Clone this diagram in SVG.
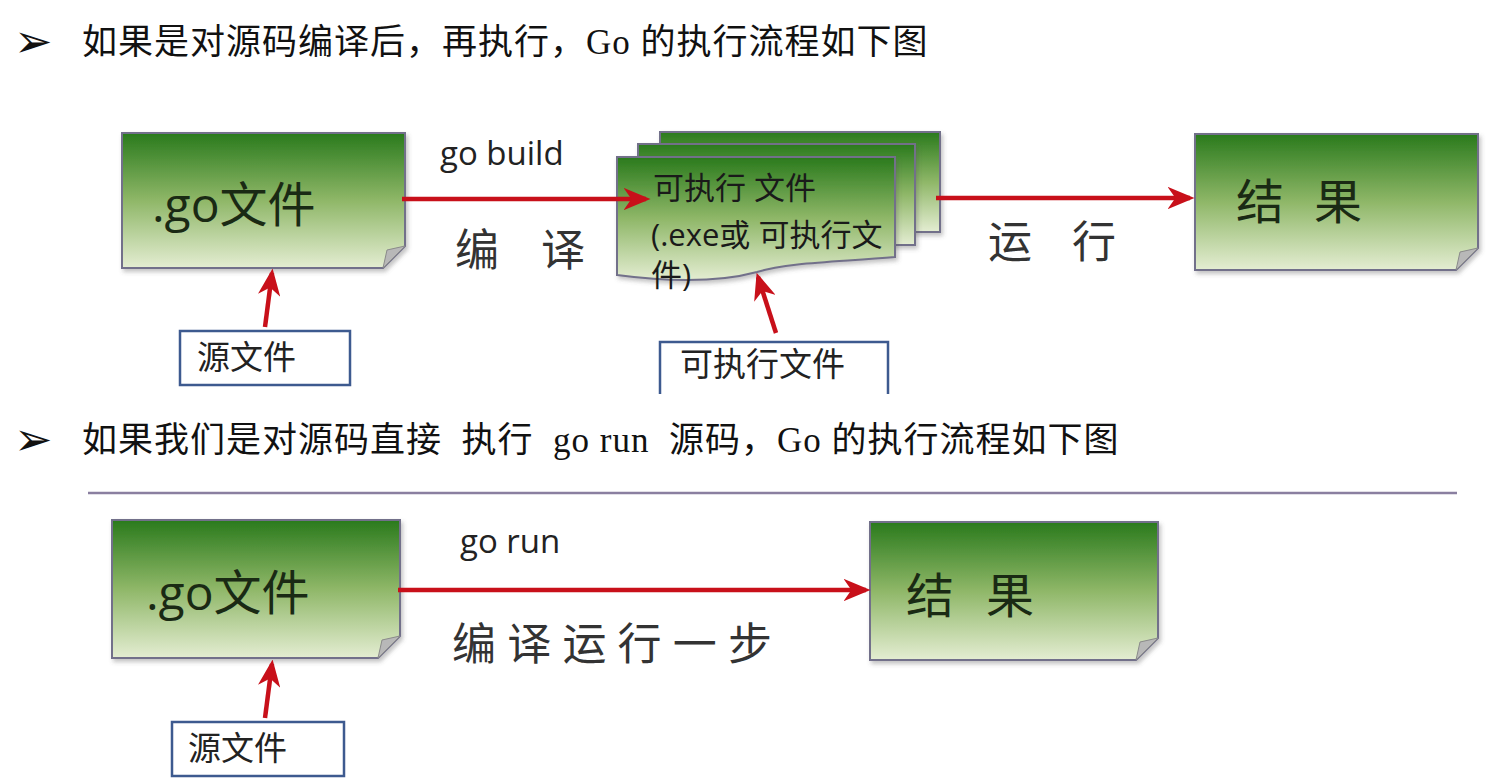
<svg xmlns="http://www.w3.org/2000/svg" width="1498" height="780" viewBox="0 0 1498 780">
  <style>
    .head { font-family: "Liberation Serif", "Noto Sans CJK SC", serif; font-size: 35px; letter-spacing: 1px; fill: #111; white-space: pre; }
    .bullet { font-family: "DejaVu Sans", sans-serif; font-size: 46px; fill: #111; }
    .big { font-family: "Open Sans", "Noto Sans CJK SC", sans-serif; font-size: 48px; fill: #1a2a14; }
    .mid { font-family: "Open Sans", "Noto Sans CJK SC", sans-serif; font-size: 31px; fill: #1a1a1a; }
    .lbl { font-family: "Open Sans", "Noto Sans CJK SC", sans-serif; font-size: 33px; fill: #222; }
    .cap { font-family: "Noto Sans CJK SC", sans-serif; font-size: 44px; fill: #333; }
    .doc { fill: url(#greenFill); stroke: #72708a; stroke-width: 2; filter: url(#shadow); }
    .fold { fill: #b8b8b8; stroke: #8a8a8a; stroke-width: 1; }
    .src { fill: #fff; stroke: #3d5a8f; stroke-width: 2.5; }
    .link { stroke: #c8101a; stroke-width: 4.5; fill: none; }
  </style>
  <defs>
    <linearGradient id="greenFill" x1="0" y1="0" x2="0" y2="1">
      <stop offset="0" stop-color="#2a7a1c"/>
      <stop offset="0.5" stop-color="#8fb768"/>
      <stop offset="1" stop-color="#e4edd2"/>
    </linearGradient>
    <filter id="shadow" x="-5%" y="-5%" width="112%" height="115%">
      <feDropShadow dx="2" dy="3" stdDeviation="2" flood-color="#555" flood-opacity="0.35"/>
    </filter>
    <marker id="head" viewBox="0 0 12 10" refX="10" refY="5" markerWidth="6" markerHeight="5" orient="auto" markerUnits="strokeWidth">
      <path d="M0,0 L12,5 L0,10 L3.5,5 z" fill="#c8101a"/>
    </marker>
  </defs>

  <!-- headings -->
  <g id="heading1">
    <text class="bullet" x="14" y="57">➢</text>
    <text class="head" x="82" y="54">如果是对源码编译后，再执行，Go 的执行流程如下图</text>
  </g>
  <g id="heading2">
    <text class="bullet" x="14" y="455">➢</text>
    <text class="head" x="82" y="452">如果我们是对源码直接  执行  go run  源码，Go 的执行流程如下图</text>
  </g>

  <!-- separator -->
  <line x1="88" y1="493" x2="1457" y2="493" stroke="#8a7fa0" stroke-width="2.5"/>

  <!-- edge labels -->
  <g id="labels">
    <text class="lbl" x="440" y="165">go build</text>
    <text class="cap" x="455" y="266" textLength="130" lengthAdjust="spacing">编 译</text>
    <text class="cap" x="988" y="258" textLength="128" lengthAdjust="spacing">运 行</text>
    <text class="lbl" x="460" y="553">go run</text>
    <text class="cap" x="452" y="660" textLength="320" lengthAdjust="spacing">编译运行一步</text>
  </g>

  <!-- top row -->
  <g id="goFile1">
    <path class="doc" d="M122,133 H405 V246 L383,268 H122 Z"/>
    <path class="fold" d="M405,246 L383,268 L387,250 Z"/>
    <text class="big" x="152" y="222">.go文件</text>
  </g>
  <g id="srcBox1">
    <rect class="src" x="180" y="331" width="170" height="54"/>
    <text class="lbl" x="197" y="369">源文件</text>
  </g>
  <g id="exeStack">
    <rect class="doc" x="660" y="132" width="280" height="100"/>
    <rect class="doc" x="638" y="144" width="277" height="101"/>
    <path class="doc" d="M617,157 H895 V257 C840,262 790,262 757,272 C720,282 670,282 617,275 Z"/>
    <text class="mid" x="653" y="199">可执行 文件</text>
    <text class="mid" x="651" y="246">(.exe或 可执行文</text>
    <text class="mid" x="651" y="286">件)</text>
  </g>
  <g id="exeBox">
    <path class="src" d="M660,394 V342 H888 V394" fill="none"/>
    <text class="lbl" x="680" y="376">可执行文件</text>
  </g>
  <g id="result1">
    <path class="doc" d="M1195,134 H1478 V248 L1456,270 H1195 Z"/>
    <path class="fold" d="M1478,248 L1456,270 L1460,252 Z"/>
    <text class="big" x="1236" y="219" textLength="126" lengthAdjust="spacing">结 果</text>
  </g>

  <!-- bottom row -->
  <g id="goFile2">
    <path class="doc" d="M112,520 H400 V636 L378,658 H112 Z"/>
    <path class="fold" d="M400,636 L378,658 L382,640 Z"/>
    <text class="big" x="146" y="610">.go文件</text>
  </g>
  <g id="srcBox2">
    <rect class="src" x="172" y="722" width="172" height="54"/>
    <text class="lbl" x="188" y="760">源文件</text>
  </g>
  <g id="result2">
    <path class="doc" d="M870,522 H1158 V638 L1136,660 H870 Z"/>
    <path class="fold" d="M1158,638 L1136,660 L1140,642 Z"/>
    <text class="big" x="906" y="613" textLength="128" lengthAdjust="spacing">结 果</text>
  </g>

  <!-- connectors, drawn over the sheets -->
  <g id="connectors">
    <line class="link" x1="402" y1="199" x2="646" y2="199" marker-end="url(#head)"/>
    <line class="link" x1="936" y1="198" x2="1190" y2="198" marker-end="url(#head)"/>
    <line class="link" x1="265" y1="327" x2="272" y2="273" marker-end="url(#head)"/>
    <line class="link" x1="776" y1="333" x2="758" y2="277" marker-end="url(#head)"/>
    <line class="link" x1="398" y1="590" x2="866" y2="590" marker-end="url(#head)"/>
    <line class="link" x1="265" y1="718" x2="272" y2="664" marker-end="url(#head)"/>
  </g>
</svg>
